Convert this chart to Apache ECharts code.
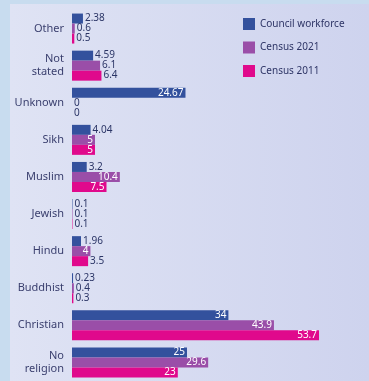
<!DOCTYPE html>
<html><head><meta charset="utf-8">
<script src="https://cdn.jsdelivr.net/npm/echarts@6/dist/echarts.min.js"></script>
<style>html,body{margin:0;padding:0;background:#c8dcef;}#c{width:369px;height:381px;}</style>
</head><body><div id="c"></div>
<script>
var categories = ["Other","Not\nstated","Unknown","Sikh","Muslim","Jewish","Hindu","Buddhist","Christian","No\nreligion"];
var workforce = [2.38,4.59,24.67,4.04,3.2,0.1,1.96,0.23,34,25];
var census2021 = [0.6,6.1,0,5,10.4,0.1,4,0.4,43.9,29.6];
var census2011 = [0.5,6.4,0,5,7.5,0.1,3.5,0.3,53.7,23];
var seriesNames = ["Council workforce","Census 2021","Census 2011"];
var colors = ["#33519d","#9a4ea8","#e0098c"];
var insideIdx = [[2,8,9],[3,4,6,8,9],[3,4,8,9]];
var FONT = "Noto Sans";

function mk(name, vals, color, inside) {
  return {
    name: name, type: 'bar', barWidth: 10, barGap: '0%', barCategoryGap: '20%',
    itemStyle: {color: color},
    data: vals.map(function(v, i){
      var inn = inside.indexOf(i) >= 0;
      return {value: v, label: inn ? {position:'insideRight', color:'#ffffff', distance:2} : {position:'right', color:'#2b3566', distance:2}};
    }),
    label: {show: true, fontFamily: FONT, fontSize: 10, formatter: function(p){return String(p.value);}}
  };
}
var chart = echarts.init(document.getElementById('c'));
chart.setOption({
  animation: false,
  backgroundColor: '#c8dcef',
  graphic: [{type:'rect', left: 10, top: 4, z: -10, shape:{width:359, height:377},
    style:{fill: new echarts.graphic.LinearGradient(0,0,1,0,[{offset:0,color:'#dfe3f4'},{offset:1,color:'#ced3ee'}])}}],
  legend: {orient:'vertical', left: 238, top: 13, itemWidth: 12, itemHeight: 12, itemGap: 11.5,
    icon: 'rect', textStyle:{fontFamily: FONT, fontSize: 10, color:'#2e3566'}, data: seriesNames},
  grid: {left: 72, right: 21, top: 10, bottom: 0},
  xAxis: {type:'value', min:0, max:60, show:false},
  yAxis: {type:'category', inverse:true, data: categories,
    axisLine:{show:false}, axisTick:{show:false},
    axisLabel:{fontFamily: FONT, fontSize: 11, color:'#3a3f6e', margin: 8, lineHeight: 13, align:'right'}},
  series: [mk(seriesNames[0], workforce, colors[0], insideIdx[0]),
           mk(seriesNames[1], census2021, colors[1], insideIdx[1]),
           mk(seriesNames[2], census2011, colors[2], insideIdx[2])]
});
</script></body></html>
